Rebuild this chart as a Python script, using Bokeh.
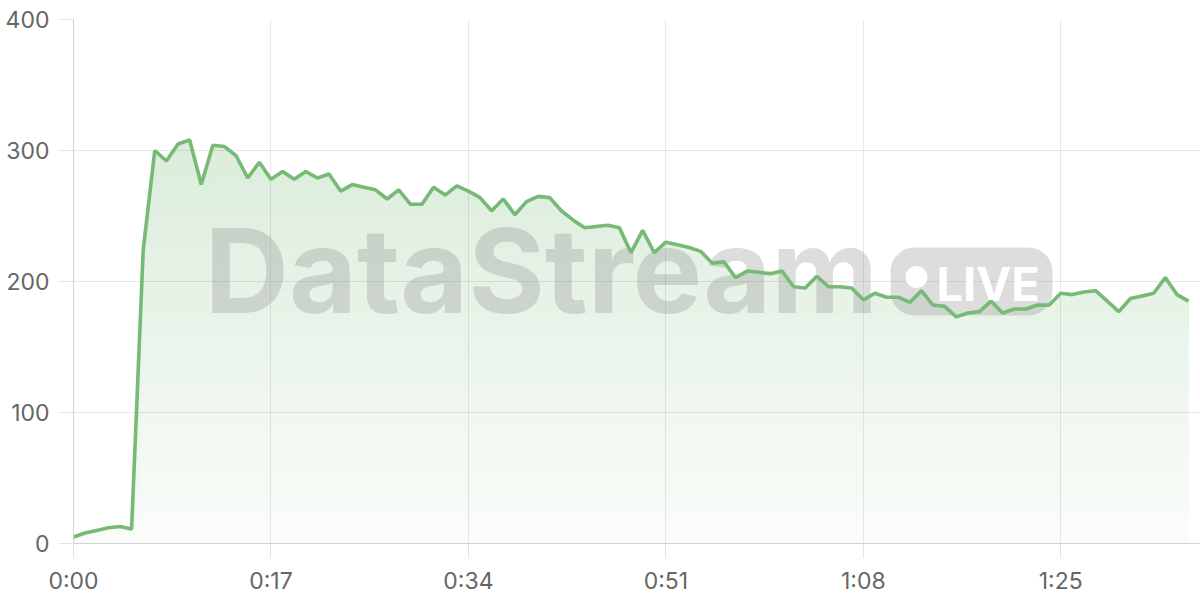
import numpy as np
from bokeh.plotting import figure
from bokeh.models import Range1d, FixedTicker, Label, BoxAnnotation
from bokeh.embed import file_html
from bokeh.resources import INLINE

# ---- data (one sample per second) ----
values = [5, 8, 10, 12, 13, 11, 224, 300, 292, 305, 308, 274, 304, 303, 296, 279,
          291, 278, 284, 278, 284, 279, 282, 269, 274, 272, 270, 263, 270, 259,
          259, 272, 266, 273, 269, 264, 254, 263, 251, 261, 265, 264, 254, 247,
          241, 242, 243, 241, 222, 239, 222, 230, 228, 226, 223, 214, 215, 203,
          208, 207, 206, 208, 196, 195, 204, 196, 196, 195, 186, 191, 188, 188,
          184, 193, 182, 181, 173, 176, 177, 185, 176, 179, 179, 182, 182, 191,
          190, 192, 193, 185, 177, 187, 189, 191, 203, 190, 185]
seconds = list(range(len(values)))

x_ticks = [0, 17, 34, 51, 68, 85]
x_tick_labels = ["0:00", "0:17", "0:34", "0:51", "1:08", "1:25"]
y_ticks = [0, 100, 200, 300, 400]

vals = np.array(values, dtype=float)
t = np.array(seconds, dtype=float)

LINE = "#76ba76"
BASE = (116, 184, 116)

p = figure(width=1200, height=600, output_backend="svg", toolbar_location=None,
           x_range=Range1d(0, 97.03), y_range=Range1d(0, 400),
           min_border_left=73, min_border_right=0, min_border_top=19,
           min_border_bottom=57)
p.outline_line_color = None
p.background_fill_color = "white"
p.border_fill_color = "white"

# gradient fill: opaque bands, darker toward the top
N = 64
edges = np.linspace(0, 400, N + 1)
for k in range(N):
    lo = edges[k]
    if lo >= vals.max():
        break
    mid = 0.5 * (edges[k] + edges[k + 1])
    a = 0.035 + 0.29 * mid / 400.0
    col = "#%02x%02x%02x" % tuple(int(round(255 - a * (255 - c))) for c in BASE)
    p.varea(x=t, y1=np.minimum(vals, lo), y2=vals, fill_color=col,
            fill_alpha=1.0, level="image")

# watermark
p.add_layout(Label(x=131, y=273, x_units="screen", y_units="screen",
                   text="DataStream", text_font="Inter", text_font_size="117px",
                   text_font_style="bold", text_color="#8f8f8f", text_alpha=0.3,
                   text_baseline="alphabetic", level="underlay"))
p.add_layout(BoxAnnotation(left=817, right=979, bottom=228, top=296,
                           left_units="screen", right_units="screen",
                           bottom_units="screen", top_units="screen",
                           fill_color="#8f8f8f", fill_alpha=0.3, line_color=None,
                           border_radius=24, level="underlay"))
p.add_layout(BoxAnnotation(left=832, right=854, bottom=255.5, top=277.5,
                           left_units="screen", right_units="screen",
                           bottom_units="screen", top_units="screen",
                           fill_color="white", fill_alpha=1.0, line_color=None,
                           border_radius=11, level="underlay"))
p.add_layout(Label(x=863, y=260, x_units="screen", y_units="screen",
                   text="LIVE", text_font="Inter", text_font_size="47px",
                   text_font_style="bold", text_color="white",
                   text_baseline="alphabetic", level="underlay"))

# the line
p.line(t, vals, line_color=LINE, line_width=3.6)

# axes
for ax in (p.xaxis, p.yaxis):
    ax.major_label_text_font = "Inter"
    ax.major_label_text_font_size = "23px"
    ax.major_label_text_color = "#666666"
    ax.major_tick_out = 15
    ax.major_tick_in = 0
    ax.minor_tick_line_color = None
    ax.major_tick_line_color = "#e3e3e3"
    ax.axis_line_color = "#d2d2d2"

p.xaxis.ticker = FixedTicker(ticks=x_ticks)
p.xaxis.major_label_overrides = {tk: lb for tk, lb in zip(x_ticks, x_tick_labels)}
p.xaxis.major_label_standoff = 8
p.yaxis.ticker = FixedTicker(ticks=y_ticks)
p.yaxis.major_label_standoff = 9

p.xgrid.ticker = FixedTicker(ticks=x_ticks)
p.ygrid.ticker = FixedTicker(ticks=y_ticks)
for g in (p.xgrid, p.ygrid):
    g.grid_line_color = "black"
    g.grid_line_alpha = 0.09
    g.grid_line_width = 1

open("out.html", "w").write(file_html(p, INLINE))
